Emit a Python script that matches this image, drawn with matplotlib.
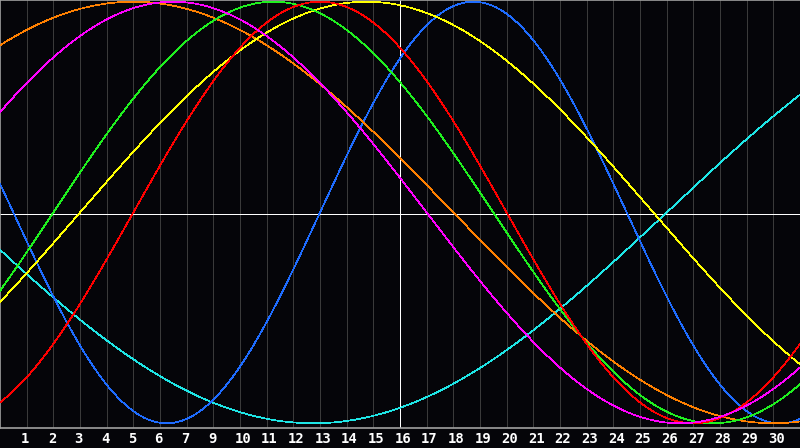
import matplotlib
matplotlib.use("Agg")
import matplotlib.pyplot as plt
import matplotlib.transforms as mtransforms
import numpy as np

# ---- data ----
days_lived_at_start = 28807          # days since birth at the left edge
cycle_names = ["Physical", "Emotional", "Intellectual", "Intuitive",
               "Aesthetic", "Awareness", "Spiritual"]
cycle_periods = [23, 28, 33, 38, 43, 48, 53]
cycle_colors = ["#1e6cff", "#ff0000", "#1ff01f", "#ff00ff",
                "#ffff00", "#ff8000", "#1ee6e6"]
day_positions = list(range(1, 30))
day_labels = ["1", "2", "3", "4", "5", "6", "7", "9", "10", "11", "12", "13",
              "14", "15", "16", "17", "18", "19", "20", "21", "22", "23",
              "24", "25", "26", "27", "28", "29", "30"]
span_days = 30
today_position = 15

BG = "#050509"
W, H, DPI = 800, 448, 100
LW = 0.72  # one pixel
fig = plt.figure(figsize=(W / DPI, H / DPI), dpi=DPI, facecolor=BG)
ax = fig.add_axes([0, 20 / H, 1, 428 / H])
ax.set_facecolor(BG)

t = np.linspace(0, span_days, 801)
draw_order = [6, 0, 5, 4, 2, 1, 3]
for i in draw_order:
    v = np.sin(2 * np.pi * (days_lived_at_start + t) / cycle_periods[i])
    ax.plot(t, v, color=cycle_colors[i], lw=0.5, antialiased=False, zorder=3,
            solid_capstyle="butt")

ax.set_xlim(0, span_days)
ax.set_ylim(-1.0224, 1.00806)

# day grid
for p in day_positions:
    ax.axvline(p, color="#3a3a3a", lw=LW, antialiased=False, zorder=1)

# today and zero lines
ax.axvline(today_position, color="#ffffff", lw=LW, antialiased=False, zorder=2)
ax.plot([0, 1], [0.5, 0.5], transform=ax.transAxes, color="#ffffff", lw=LW,
        antialiased=False, zorder=2)

for side in ["left", "top", "bottom"]:
    ax.spines[side].set_color("#a0a0a0")
    ax.spines[side].set_linewidth(1.2)
ax.spines["right"].set_visible(False)

ax.set_yticks([])
ax.set_xticks(day_positions)
ax.set_xticklabels(day_labels, fontfamily="DejaVu Sans Mono",
                   fontweight="bold", fontsize=10, color="white", ha="left")
ax.tick_params(axis="x", length=0, pad=3)
offset = mtransforms.ScaledTranslation(-5.5 / DPI, 0, fig.dpi_scale_trans)
for lab in ax.get_xticklabels():
    lab.set_transform(lab.get_transform() + offset)

fig.savefig("out.png", dpi=DPI, facecolor=BG)
